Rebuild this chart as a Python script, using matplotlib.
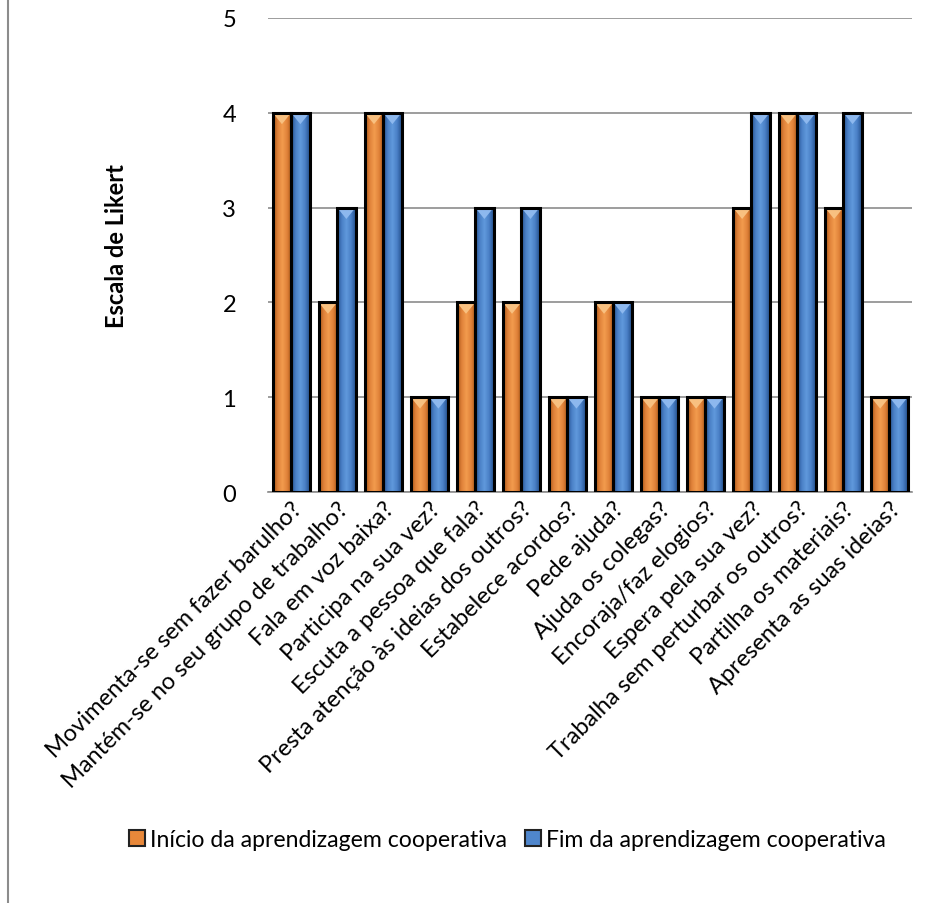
import numpy as np
import matplotlib
matplotlib.use("Agg")
from matplotlib import pyplot as plt
from matplotlib.colors import LinearSegmentedColormap
from matplotlib.patches import Rectangle, Polygon
from matplotlib.lines import Line2D

plt.rcParams['font.family'] = ['Lato', 'DejaVu Sans']

categorias = ["Movimenta-se sem fazer barulho?", "Mantém-se no seu grupo de trabalho?",
              "Fala em voz baixa?", "Participa na sua vez?", "Escuta a pessoa que fala?",
              "Presta atenção às ideias dos outros?", "Estabelece acordos?", "Pede ajuda?",
              "Ajuda os colegas?", "Encoraja/faz elogios?", "Espera pela sua vez?",
              "Trabalha sem perturbar os outros?", "Partilha os materiais?",
              "Apresenta as suas ideias?"]
inicio = [4, 2, 4, 1, 2, 2, 1, 2, 1, 1, 3, 4, 3, 1]
fim = [4, 3, 4, 1, 3, 3, 1, 2, 1, 1, 4, 4, 4, 1]
serie_nomes = ["Início da aprendizagem cooperativa", "Fim da aprendizagem cooperativa"]

laranja = LinearSegmentedColormap.from_list("lar", ["#A85516", "#E0823A", "#F39C4E", "#E0823A", "#A85516"])
azul = LinearSegmentedColormap.from_list("az", ["#244F8C", "#4A80C6", "#6099DC", "#4A80C6", "#244F8C"])

fig = plt.figure(figsize=(9.31, 9.04), dpi=100)
ax = fig.add_axes([0.288, 0.4546, 0.692, 0.5244])

x = np.arange(len(categorias))
w = 0.4
grad = np.linspace(0, 1, 64).reshape(1, -1)
fs = 17


def barras(vals, off, cmap, topo):
    bars = ax.bar(x + off, vals, w, facecolor='none', edgecolor='black', linewidth=2.2, zorder=4)
    for b in bars:
        x0, y0 = b.get_x(), b.get_y()
        bw, bh = b.get_width(), b.get_height()
        im = ax.imshow(grad, cmap=cmap, extent=[x0, x0 + bw, y0, y0 + bh],
                       aspect='auto', zorder=2, interpolation='bilinear')
        clip = Rectangle((x0, y0), bw, bh, transform=ax.transData)
        im.set_clip_path(clip)
        # pequeno bisel no topo
        ax.add_patch(Polygon([(x0, y0 + bh), (x0 + bw, y0 + bh), (x0 + bw / 2, y0 + bh - 0.12)],
                             closed=True, facecolor=topo, edgecolor='none', zorder=3))


barras(inicio, -0.2, laranja, '#F8C080')
barras(fim, 0.2, azul, '#8DB8EE')

ax.set_xlim(-0.5, len(categorias) - 0.5)
ax.set_ylim(0, 5)
ax.set_yticks(range(6))
ax.yaxis.grid(True, color='#8c8c8c', linewidth=1.2, zorder=0)
ax.tick_params(axis='y', length=0, pad=28, labelsize=fs)
ax.tick_params(axis='x', length=0, labelsize=fs, pad=4)
for s in ['top', 'right', 'left']:
    ax.spines[s].set_visible(False)
ax.spines['bottom'].set_color('#8c8c8c')
ax.spines['bottom'].set_linewidth(1.2)
ax.set_xticks(x)
ax.set_xticklabels(categorias, rotation=45, ha='right', rotation_mode='anchor')
for t in ax.get_yticklabels():
    t.set_horizontalalignment('center')
ax.set_ylabel("Escala de Likert", fontsize=fs, fontweight='bold')
ax.yaxis.set_label_coords(-0.218, 0.52)

handles = [Rectangle((0, 0), 1, 1, facecolor='#E8883A', edgecolor='#222222', linewidth=1.5),
           Rectangle((0, 0), 1, 1, facecolor='#4F86CC', edgecolor='#222222', linewidth=1.5)]
fig.legend(handles, serie_nomes, loc='center', bbox_to_anchor=(0.545, 0.07), ncol=2, frameon=False,
           fontsize=16.6, handlelength=0.7, handleheight=0.7, handletextpad=0.2, columnspacing=0.8)

fig.add_artist(Line2D([8 / 931, 8 / 931], [0, 1], color='#8c8c8c', linewidth=1.5))

fig.savefig("out.png", dpi=100)
